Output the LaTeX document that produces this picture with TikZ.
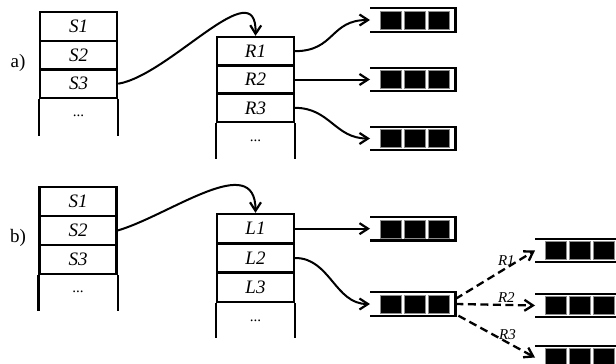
\documentclass[tikz,border=0pt]{standalone}
\usepackage{fontspec}
\setmainfont{Liberation Serif}
\usetikzlibrary{arrows.meta,calc}
\tikzset{
  row/.style={draw, line width=2.4pt, minimum width=77pt, inner sep=0pt, font=\fontsize{19}{19}\selectfont\itshape},
  stackline/.style={line width=2.4pt},
  dots/.style={inner sep=0pt, font=\fontsize{15}{15}\selectfont},
  plabel/.style={inner sep=0pt, font=\fontsize{19}{19}\selectfont},
  qnode/.style={shape=rectangle, minimum width=85pt, minimum height=23pt, inner sep=0pt, anchor=west},
  qline/.style={line width=2.3pt},
  qcell/.style={fill=black, draw=black!45, line width=0.7pt},
  conn/.style={line width=2pt, -{Straight Barb[length=8.5pt,width=11pt,line width=2.2pt]}},
  dconn/.style={line width=2.3pt, dash pattern=on 8pt off 4.5pt, -{Straight Barb[length=8.5pt,width=11pt,line width=2.3pt]}},
  dlabel/.style={inner sep=1.5pt, font=\fontsize{15}{15}\selectfont\itshape}
}
\newcommand{\queue}[2]{%
  \node[qnode] (#1) at (#2) {};
  \draw[qline] (#1.north west) -- (#1.north east) -- (#1.south east) -- (#1.south west);
  \foreach \k in {0,1,2}{
    \filldraw[qcell] ($(#1.south west)+(10+24*\k,-2.5)$) rectangle ++(21,-18);
  }
}
\begin{document}
\begin{tikzpicture}[x=1pt,y=-1pt]
\clip (0,0) rectangle (616,364);
\fill[white] (0,0) rectangle (616,364);

% ---------- panel a ----------
\node[plabel] (la) at (18,63) {a)};
\node[row, minimum height=28.7pt] (aS1) at (78.5,26.35) {S1};
\node[row, minimum height=28.7pt] (aS2) at (78.5,55.05) {S2};
\node[row, minimum height=28.7pt] (aS3) at (78.5,83.75) {S3};
\draw[stackline] (aS3.south west) -- ++(0,37);
\draw[stackline] (aS3.south east) -- ++(0,37);
\node[dots] (aSd) at (78.5,116) {...};

\node[row, minimum height=28.33pt] (aR1) at (255.5,51.17) {R1};
\node[row, minimum height=28.33pt] (aR2) at (255.5,79.5) {R2};
\node[row, minimum height=28.33pt] (aR3) at (255.5,107.83) {R3};
\draw[stackline] (aR3.south west) -- ++(0,36);
\draw[stackline] (aR3.south east) -- ++(0,36);
\node[dots] (aRd) at (255.5,141) {...};

\queue{qa1}{370,20}
\queue{qa2}{370,79.5}
\queue{qa3}{370,138.5}

\draw[conn] (aS3.east) .. controls (170,75) and (257,-30) .. (aR1.north);
\draw[conn] (aR1.east) .. controls (335,51) and (330,20) .. (qa1.west);
\draw[conn] (aR2.east) -- (qa2.west);
\draw[conn] (aR3.east) .. controls (330,108) and (335,138.5) .. (qa3.west);

% ---------- panel b ----------
\node[plabel] (lb) at (18,238) {b)};
\node[row, minimum height=29pt] (bS1) at (78,201.5) {S1};
\node[row, minimum height=29pt] (bS2) at (78,230.5) {S2};
\node[row, minimum height=29pt] (bS3) at (78,259.5) {S3};
\draw[stackline] (bS3.south west) -- ++(0,36);
\draw[stackline] (bS3.south east) -- ++(0,36);
\node[dots] (bSd) at (78,292) {...};

\node[row, minimum height=29.33pt] (bL1) at (255.5,228.67) {L1};
\node[row, minimum height=29.33pt] (bL2) at (255.5,258) {L2};
\node[row, minimum height=29.33pt] (bL3) at (255.5,287.33) {L3};
\draw[stackline] (bL3.south west) -- ++(0,35);
\draw[stackline] (bL3.south east) -- ++(0,35);
\node[dots] (bLd) at (255.5,321) {...};

\queue{qb1}{370,228.67}
\queue{qb2}{370,304}
\queue{qr1}{535,250.5}
\queue{qr2}{535,305.5}
\queue{qr3}{535,357.5}

\draw[conn] (bS2.east) .. controls (170,215) and (255.5,150) .. (bL1.north);
\draw[conn] (bL1.east) -- (qb1.west);
\draw[conn] (bL2.east) .. controls (330,258) and (335,304) .. (qb2.west);

\draw[dconn] ([yshift=5pt]qb2.east) -- node[dlabel, pos=0.64, above] (tR1) {R1} (qr1.west);
\draw[dconn] (qb2.east) -- node[dlabel, pos=0.64, above] (tR2) {R2} (qr2.west);
\draw[dconn] ([xshift=3pt]qb2.south east) -- node[dlabel, pos=0.64, above] (tR3) {R3} (qr3.west);
\end{tikzpicture}
\end{document}
